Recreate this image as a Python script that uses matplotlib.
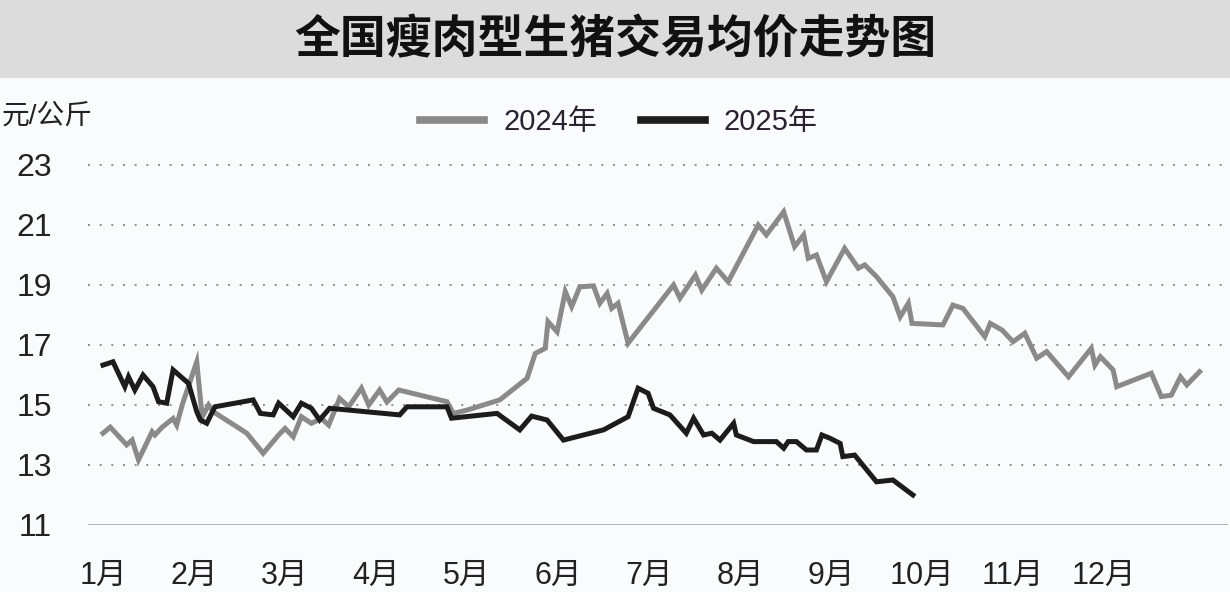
import matplotlib.pyplot as plt
from matplotlib.patches import Rectangle

# ------------------------------------------------------------
# Data: month position (0 = 1月 start) and price (元/公斤)
# ------------------------------------------------------------
x_2024 = [0.00, 0.08, 0.26, 0.32, 0.39, 0.54, 0.57, 0.65, 0.77, 0.81, 0.87, 1.03,
          1.09, 1.16, 1.21, 1.58, 1.76, 1.93, 2.00, 2.09, 2.18, 2.29, 2.40, 2.48,
          2.60, 2.70, 2.84, 2.92, 3.04, 3.12, 3.25, 3.78, 3.85, 4.00, 4.36, 4.66,
          4.75, 4.86, 4.89, 4.99, 5.08, 5.15, 5.24, 5.39, 5.46, 5.54, 5.59, 5.66,
          5.77, 6.27, 6.34, 6.51, 6.58, 6.74, 6.87, 7.20, 7.29, 7.48, 7.60, 7.70,
          7.75, 7.84, 7.95, 8.15, 8.30, 8.37, 8.50, 8.68, 8.76, 8.85, 8.89, 9.23,
          9.34, 9.45, 9.69, 9.75, 9.88, 10.00, 10.13, 10.26, 10.37, 10.61, 10.86,
          10.90, 10.96, 11.10, 11.14, 11.52, 11.63, 11.74, 11.84, 11.91, 12.05]
y_2024 = [14.06, 14.26, 13.67, 13.83, 13.17, 14.11, 14.00, 14.26, 14.55, 14.33, 15.00, 16.44,
          14.60, 15.00, 14.78, 14.06, 13.39, 14.00, 14.22, 13.94, 14.61, 14.39, 14.55, 14.33,
          15.22, 14.94, 15.56, 15.00, 15.50, 15.10, 15.50, 15.11, 14.72, 14.83, 15.17, 15.89,
          16.72, 16.89, 17.78, 17.44, 18.78, 18.28, 18.94, 18.97, 18.39, 18.72, 18.22, 18.39,
          17.06, 19.00, 18.56, 19.33, 18.83, 19.56, 19.11, 21.00, 20.67, 21.44, 20.28, 20.67,
          19.89, 20.00, 19.11, 20.22, 19.56, 19.67, 19.28, 18.61, 17.94, 18.39, 17.72, 17.67,
          18.33, 18.22, 17.28, 17.72, 17.50, 17.11, 17.39, 16.56, 16.78, 15.94, 16.89,
          16.33, 16.61, 16.17, 15.61, 16.06, 15.28, 15.33, 15.94, 15.67, 16.11]

x_2025 = [0.00, 0.11, 0.24, 0.28, 0.35, 0.44, 0.55, 0.61, 0.70, 0.77, 0.94, 1.03,
          1.07, 1.14, 1.23, 1.65, 1.73, 1.87, 1.93, 2.09, 2.18, 2.29, 2.38, 2.49,
          3.26, 3.34, 3.78, 3.83, 4.33, 4.58, 4.71, 4.88, 5.06, 5.50, 5.77, 5.88,
          5.99, 6.05, 6.23, 6.41, 6.49, 6.60, 6.69, 6.78, 6.93, 6.96, 7.15, 7.40,
          7.48, 7.53, 7.62, 7.73, 7.84, 7.90, 7.99, 8.10, 8.13, 8.26, 8.50, 8.68, 8.90]
y_2025 = [16.33, 16.44, 15.61, 15.94, 15.50, 16.00, 15.61, 15.11, 15.06, 16.17, 15.72, 14.78,
          14.50, 14.39, 14.94, 15.17, 14.72, 14.67, 15.06, 14.61, 15.06, 14.89, 14.50, 14.89,
          14.67, 14.94, 14.94, 14.56, 14.72, 14.17, 14.63, 14.50, 13.83, 14.17, 14.61, 15.56,
          15.39, 14.89, 14.67, 14.06, 14.56, 14.00, 14.06, 13.83, 14.39, 14.00, 13.78, 13.78,
          13.56, 13.78, 13.78, 13.50, 13.50, 14.00, 13.89, 13.72, 13.28, 13.33, 12.44, 12.50, 12.00]

month_labels = ["1月", "2月", "3月", "4月", "5月", "6月", "7月", "8月", "9月", "10月", "11月", "12月"]
y_ticks = [11, 13, 15, 17, 19, 21, 23]

# ------------------------------------------------------------
# Figure
# ------------------------------------------------------------
plt.rcParams['font.family'] = ['Liberation Sans', 'Noto Sans CJK SC', 'DejaVu Sans']

fig = plt.figure(figsize=(12.3, 5.92), dpi=100)
fig.patch.set_facecolor('#fafbfd')

# title band
fig.patches.append(Rectangle((0, 1 - 78 / 592), 1, 78 / 592, transform=fig.transFigure,
                             facecolor='#dcdcdc', edgecolor='none', zorder=0))
fig.text(0.5, 1 - 40 / 592, "全国瘦肉型生猪交易均价走势图", ha='center', va='center',
         fontsize=33, fontweight='bold', family=['Noto Sans CJK SC'], color='#111111')

ax = fig.add_axes([88 / 1230, 67 / 592, 1140 / 1230, 370 / 592])
ax.set_facecolor('#fafbfd')

ax.plot(x_2024, y_2024, color='#8a8a8a', lw=3.6, solid_joinstyle='miter', label='2024年', zorder=3)
ax.plot(x_2025, y_2025, color='#1c1c1c', lw=3.6, solid_joinstyle='miter', label='2025年', zorder=4)

ax.set_xlim(-15 / 91, 1125 / 91)
ax.set_ylim(11, 23 + 10 / 30)

for v in y_ticks[1:]:
    ax.axhline(v, color='#8f8f8f', lw=1.4, ls=(0, (1, 5)), zorder=1)
ax.axhline(11, color='#9a9a9a', lw=1.8, zorder=2)

for s in ax.spines.values():
    s.set_visible(False)

ax.set_yticks(y_ticks)
ax.set_yticklabels([str(v) for v in y_ticks])
ax.set_xticks(range(12))
ax.set_xticklabels(month_labels)
ax.tick_params(axis='y', length=0, pad=26, labelsize=23, labelcolor='#222222')
ax.tick_params(axis='x', length=0, pad=26, labelsize=22, labelcolor='#222222')

fig.text(0.001, 1 - 117 / 592, "元/公斤", ha='left', va='center', fontsize=20, color='#222222')

fig.legend(loc='center', bbox_to_anchor=(619 / 1230, 1 - 122 / 592), ncol=2, frameon=False,
           fontsize=21, handlelength=2.2, handletextpad=0.65, columnspacing=1.5,
           labelcolor='#2a2230')
leg = fig.legends[0]
for line in leg.get_lines():
    line.set_linewidth(5.5)

fig.savefig("out.png", dpi=100, facecolor=fig.get_facecolor())
